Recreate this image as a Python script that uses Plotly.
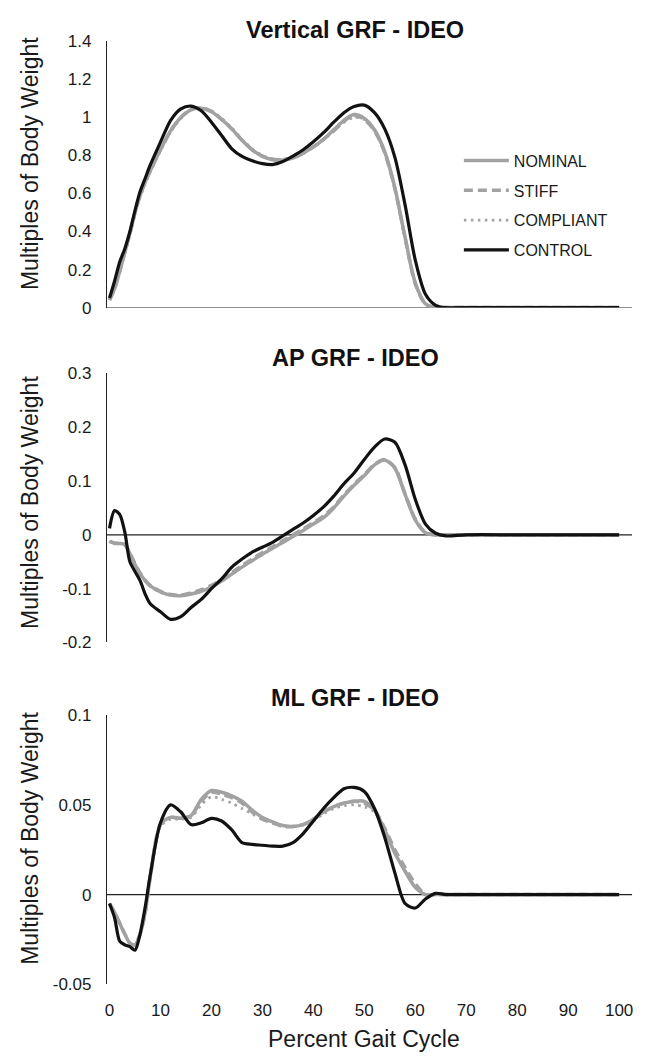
import plotly.graph_objects as go

# ---------------- data ----------------
X = [0, 1, 2, 3, 4, 5, 6, 7, 8, 10, 12, 14, 16, 18, 20, 22, 24, 26, 28, 30, 32, 34, 36, 38,
     40, 42, 44, 46, 48, 50, 52, 54, 56, 58, 60, 62, 64, 66, 70, 80, 90, 100]

series_names = ["NOMINAL", "STIFF", "COMPLIANT", "CONTROL"]

# Vertical GRF
vert_nominal = [0.04, 0.10, 0.19, 0.29, 0.39, 0.50, 0.59, 0.66, 0.72, 0.83, 0.93, 1.00, 1.04, 1.048,
                1.03, 0.99, 0.94, 0.88, 0.83, 0.795, 0.778, 0.776, 0.786, 0.812, 0.845, 0.885, 0.935,
                0.985, 1.015, 0.995, 0.935, 0.82, 0.63, 0.37, 0.13, 0.02, 0.0, 0.0, 0.0, 0.0, 0.0, 0.0]
vert_stiff = [0.04, 0.10, 0.19, 0.29, 0.39, 0.50, 0.59, 0.66, 0.72, 0.83, 0.93, 1.00, 1.045, 1.05,
              1.032, 0.99, 0.94, 0.88, 0.83, 0.797, 0.78, 0.778, 0.788, 0.812, 0.845, 0.885, 0.93,
              0.98, 1.01, 0.99, 0.93, 0.815, 0.625, 0.365, 0.125, 0.018, 0.0, 0.0, 0.0, 0.0, 0.0, 0.0]
vert_compliant = [0.04, 0.10, 0.19, 0.29, 0.38, 0.49, 0.58, 0.65, 0.715, 0.825, 0.925, 0.995, 1.04, 1.05,
                  1.035, 0.995, 0.945, 0.885, 0.835, 0.8, 0.782, 0.78, 0.79, 0.813, 0.845, 0.883, 0.928,
                  0.975, 1.0, 0.99, 0.93, 0.815, 0.625, 0.365, 0.125, 0.018, 0.0, 0.0, 0.0, 0.0, 0.0, 0.0]
vert_control = [0.05, 0.14, 0.24, 0.31, 0.40, 0.51, 0.61, 0.68, 0.75, 0.87, 0.985, 1.045, 1.06, 1.035,
                0.975, 0.905, 0.835, 0.795, 0.772, 0.757, 0.752, 0.768, 0.797, 0.83, 0.872, 0.92, 0.975,
                1.025, 1.058, 1.065, 1.025, 0.94, 0.79, 0.54, 0.25, 0.07, 0.012, 0.0, 0.0, 0.0, 0.0, 0.0]

# AP GRF
ap_nominal = [-0.012, -0.016, -0.016, -0.018, -0.035, -0.055, -0.072, -0.085, -0.095, -0.106, -0.112,
              -0.113, -0.110, -0.105, -0.097, -0.086, -0.073, -0.060, -0.048, -0.036, -0.025, -0.014,
              -0.003, 0.008, 0.020, 0.032, 0.050, 0.072, 0.092, 0.110, 0.130, 0.139, 0.124, 0.075,
              0.028, 0.004, 0.0, 0.0, 0.0, 0.0, 0.0, 0.0]
ap_stiff = [-0.012, -0.015, -0.016, -0.018, -0.034, -0.054, -0.071, -0.084, -0.094, -0.105, -0.111,
            -0.112, -0.108, -0.102, -0.094, -0.083, -0.070, -0.057, -0.045, -0.033, -0.022, -0.011,
            0.0, 0.011, 0.023, 0.035, 0.052, 0.074, 0.094, 0.112, 0.131, 0.140, 0.125, 0.076,
            0.029, 0.004, 0.0, 0.0, 0.0, 0.0, 0.0, 0.0]
ap_compliant = [-0.012, -0.016, -0.017, -0.019, -0.036, -0.056, -0.073, -0.086, -0.096, -0.107, -0.112,
                -0.112, -0.109, -0.104, -0.096, -0.085, -0.072, -0.059, -0.047, -0.035, -0.024, -0.013,
                -0.002, 0.009, 0.021, 0.033, 0.051, 0.073, 0.093, 0.111, 0.130, 0.139, 0.124, 0.075,
                0.028, 0.004, 0.0, 0.0, 0.0, 0.0, 0.0, 0.0]
ap_control = [0.012, 0.045, 0.038, 0.005, -0.05, -0.068, -0.085, -0.11, -0.128, -0.143, -0.157, -0.152,
              -0.135, -0.12, -0.10, -0.082, -0.06, -0.045, -0.032, -0.023, -0.014, -0.002, 0.010,
              0.022, 0.036, 0.052, 0.072, 0.095, 0.115, 0.140, 0.163, 0.178, 0.172, 0.130, 0.066,
              0.020, 0.003, -0.002, 0.0, 0.0, 0.0, 0.0]

# ML GRF
ml_nominal = [-0.005, -0.010, -0.016, -0.022, -0.027, -0.028, -0.022, -0.010, 0.010, 0.039, 0.043,
              0.0425, 0.044, 0.053, 0.058, 0.057, 0.055, 0.052, 0.047, 0.043, 0.0405, 0.0385, 0.038,
              0.039, 0.042, 0.046, 0.049, 0.051, 0.052, 0.052, 0.047, 0.036, 0.023, 0.013, 0.004,
              0.0, 0.0, 0.0, 0.0, 0.0, 0.0, 0.0]
ml_stiff = [-0.005, -0.010, -0.016, -0.022, -0.027, -0.028, -0.022, -0.010, 0.010, 0.039, 0.043,
            0.0425, 0.044, 0.052, 0.057, 0.056, 0.054, 0.051, 0.046, 0.042, 0.040, 0.038, 0.038,
            0.039, 0.042, 0.046, 0.049, 0.051, 0.052, 0.051, 0.047, 0.037, 0.025, 0.015, 0.006,
            0.0, 0.0, 0.0, 0.0, 0.0, 0.0, 0.0]
ml_compliant = [-0.005, -0.010, -0.016, -0.022, -0.027, -0.028, -0.022, -0.010, 0.010, 0.038, 0.042,
                0.042, 0.043, 0.050, 0.0545, 0.053, 0.051, 0.048, 0.045, 0.042, 0.040, 0.0385, 0.038,
                0.039, 0.041, 0.045, 0.048, 0.0495, 0.050, 0.049, 0.046, 0.036, 0.023, 0.013, 0.004,
                0.0, 0.0, 0.0, 0.0, 0.0, 0.0, 0.0]
ml_control = [-0.005, -0.013, -0.026, -0.028, -0.029, -0.031, -0.022, -0.007, 0.011, 0.040, 0.050,
              0.046, 0.039, 0.040, 0.0425, 0.041, 0.036, 0.029, 0.028, 0.0275, 0.027, 0.027, 0.029,
              0.034, 0.041, 0.048, 0.054, 0.059, 0.0597, 0.0575, 0.048, 0.032, 0.012, -0.005,
              -0.0075, -0.0025, 0.0007, 0.0, 0.0, 0.0, 0.0, 0.0]

panel_titles = ["Vertical GRF - IDEO", "AP GRF - IDEO", "ML GRF - IDEO"]
y_title = "Multiples of Body Weight"
x_title = "Percent Gait Cycle"

x_ticks = [0, 10, 20, 30, 40, 50, 60, 70, 80, 90, 100]
vert_ticks = [0, 0.2, 0.4, 0.6, 0.8, 1.0, 1.2, 1.4]
vert_ticktext = ["0", "0.2", "0.4", "0.6", "0.8", "1", "1.2", "1.4"]
ap_ticks = [-0.2, -0.1, 0, 0.1, 0.2, 0.3]
ap_ticktext = ["-0.2", "-0.1", "0", "0.1", "0.2", "0.3"]
ml_ticks = [-0.05, 0, 0.05, 0.1]
ml_ticktext = ["-0.05", "0", "0.05", "0.1"]

# ---------------- styling ----------------
W, H = 646, 1064
FONT = "Liberation Sans, Arial, Helvetica, sans-serif"
GRAY = "#a2a2a2"
BLACK = "#121212"
styles = {
    "NOMINAL": dict(color=GRAY, width=3.5, dash="solid"),
    "STIFF": dict(color=GRAY, width=3.5, dash="9px,5px"),
    "COMPLIANT": dict(color=GRAY, width=2.8, dash="2.5px,4.5px"),
    "CONTROL": dict(color=BLACK, width=3.2, dash="solid"),
}

panels = [
    ([vert_nominal, vert_stiff, vert_compliant, vert_control], "x", "y"),
    ([ap_nominal, ap_stiff, ap_compliant, ap_control], "x2", "y2"),
    ([ml_nominal, ml_stiff, ml_compliant, ml_control], "x3", "y3"),
]

fig = go.Figure()
for pi, (data, xa, ya) in enumerate(panels):
    for name, ys in zip(series_names, data):
        fig.add_trace(go.Scatter(
            x=X, y=ys, mode="lines", name=name, xaxis=xa, yaxis=ya,
            line=dict(shape="spline", smoothing=0.8, **styles[name]),
            showlegend=(pi == 0), legendgroup=name,
        ))

def px_x(p):
    return p / W

def px_y(p):
    return (H - p) / H

x_dom = [px_x(105.5), px_x(633)]
x_rng = [-0.49, 102.54]
y_doms = [
    [px_y(304), px_y(33)],
    [px_y(645), px_y(371)],
    [px_y(993), px_y(719)],
]
y_rngs = [[0, 1.4], [-0.2, 0.3], [-0.05, 0.1]]
y_tickvals = [vert_ticks, ap_ticks, ml_ticks]
y_ticktexts = [vert_ticktext, ap_ticktext, ml_ticktext]

axis_font = dict(family=FONT, size=17, color="#1a1a1a")
layout = dict(
    width=W, height=H,
    margin=dict(l=0, r=0, t=0, b=0),
    paper_bgcolor="white", plot_bgcolor="white",
    font=dict(family=FONT, color="#1a1a1a"),
    legend=dict(
        x=px_x(459), y=px_y(137), xanchor="left", yanchor="top",
        font=dict(family=FONT, size=16, color="#1a1a1a"),
        bgcolor="rgba(0,0,0,0)", traceorder="grouped", tracegroupgap=6,
        itemwidth=45,
    ),
)
for i in range(3):
    suffix = "" if i == 0 else str(i + 1)
    layout["xaxis" + suffix] = dict(
        domain=x_dom, range=x_rng, anchor="y" + suffix,
        showgrid=False, zeroline=False, showline=False,
        tickvals=x_ticks, ticks="", showticklabels=(i == 2),
        tickfont=axis_font, ticklabelstandoff=14,
    )
    layout["yaxis" + suffix] = dict(
        domain=y_doms[i], range=y_rngs[i], anchor="x" + suffix,
        showgrid=False, zeroline=False, showline=True,
        linecolor="#222222", linewidth=1.2,
        tickvals=y_tickvals[i], ticktext=y_ticktexts[i], ticks="",
        tickfont=axis_font, ticklabelstandoff=11,
    )
fig.update_layout(**layout)

# horizontal zero lines (category axis)
for i in range(3):
    suffix = "" if i == 0 else str(i + 1)
    fig.add_shape(type="line", xref="x" + suffix + " domain", yref="y" + suffix,
                  x0=0, x1=1, y0=0, y1=0, layer="below",
                  line=dict(color="#222222", width=1.2))

# panel titles
title_y = [21, 355, 702]
for t, yy in zip(panel_titles, title_y):
    fig.add_annotation(text="<b>" + t + "</b>", xref="paper", yref="paper",
                       x=px_x(355), y=px_y(yy), xanchor="center", yanchor="middle",
                       showarrow=False, font=dict(family=FONT, size=23.5, color="#111111"))

# y-axis titles
ytitle_y = [157, 502, 844]
for yy in ytitle_y:
    fig.add_annotation(text=y_title, xref="paper", yref="paper", textangle=-90,
                       x=px_x(28), y=px_y(yy), xanchor="center", yanchor="middle",
                       showarrow=False, font=dict(family=FONT, size=23, color="#1a1a1a"))

# x-axis title
fig.add_annotation(text=x_title, xref="paper", yref="paper",
                   x=px_x(364), y=px_y(1049), xanchor="center", yanchor="middle",
                   showarrow=False, font=dict(family=FONT, size=23, color="#1a1a1a"))

fig.write_html("out.html",
               config={"displayModeBar": False},
               post_script="document.body.style.margin='0px';document.body.style.overflow='hidden';")
